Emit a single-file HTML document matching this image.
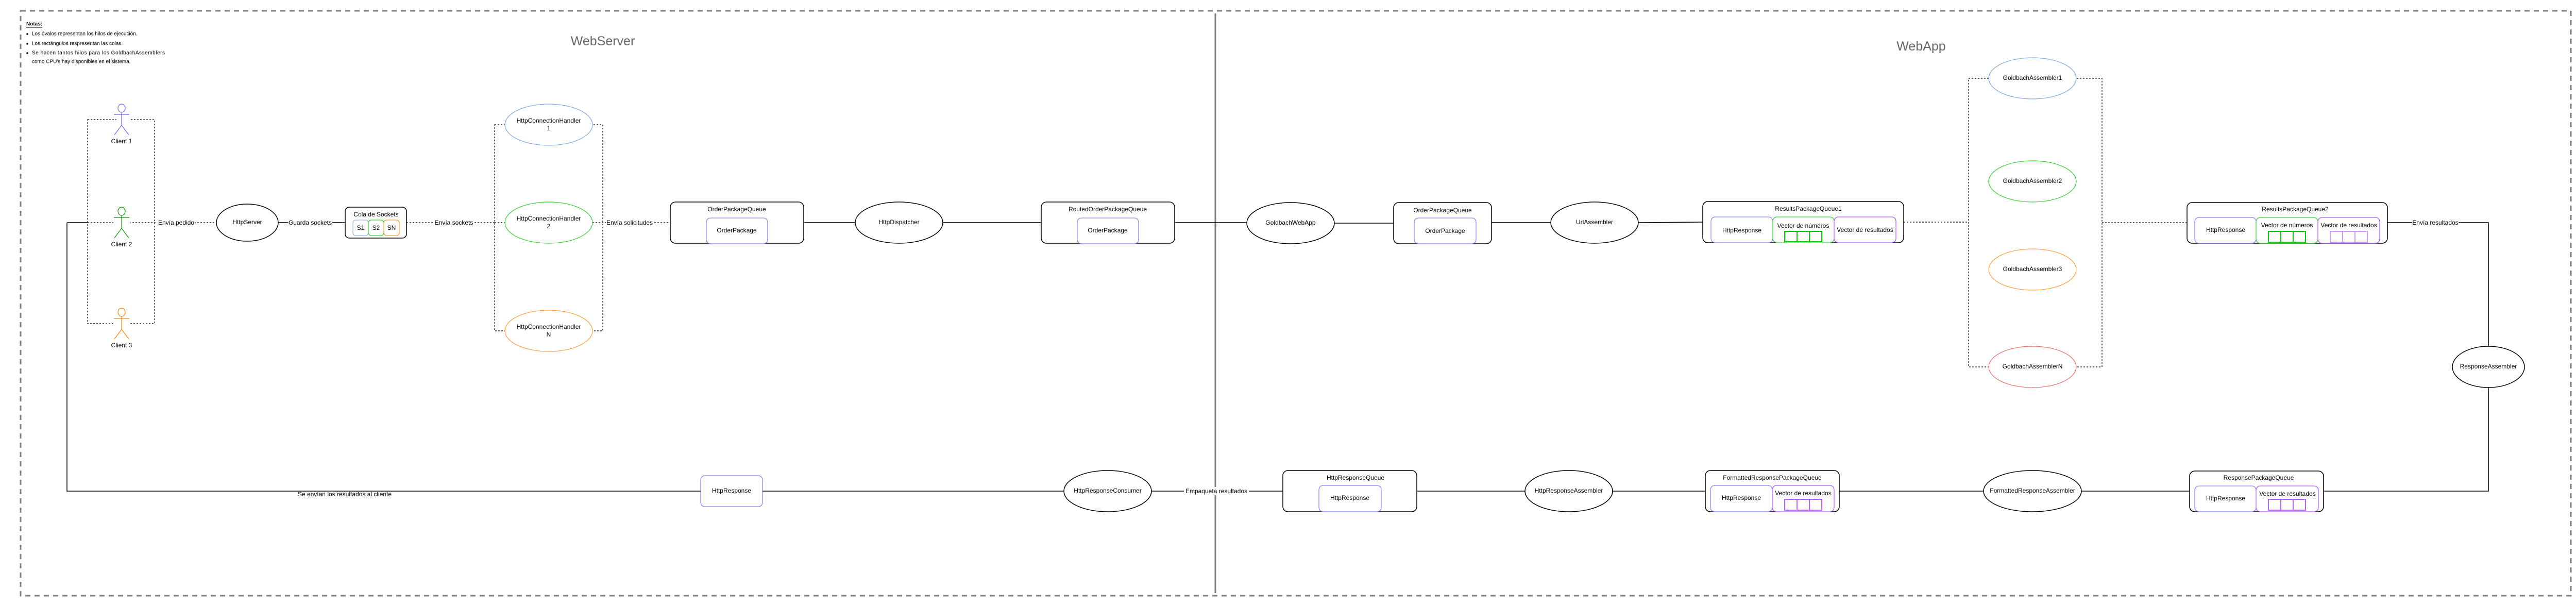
<!DOCTYPE html>
<html><head><meta charset="utf-8"><style>
html,body{margin:0;padding:0;background:#fff;}
svg{display:block;}
text{font-family:"Liberation Sans",Arial,sans-serif;font-size:12px;fill:#000;dominant-baseline:central;text-anchor:middle;}
.n{font-size:10px;text-anchor:start;}
.t{font-size:25px;fill:#666;}
.l{stroke:#000;stroke-width:1.5;fill:none;}
.d{stroke:#000;stroke-width:1.2;fill:none;stroke-dasharray:3,3;}
.box{fill:#fff;stroke:#000;stroke-width:1.5;}
.lb{fill:#fff;}
</style></head><body>
<svg width="5013" height="1174" viewBox="0 0 5013 1174" xmlns="http://www.w3.org/2000/svg">
<!-- outer border -->
<rect x="40" y="21" width="4950" height="1135" fill="none" stroke="#808080" stroke-width="3" stroke-dasharray="10,8"/>
<line x1="2359" y1="26" x2="2359" y2="1151" stroke="#808080" stroke-width="3"/>

<!-- notes -->
<text class="n" x="51" y="47" style="font-weight:bold;text-decoration:underline">Notas:</text>
<circle cx="53" cy="66" r="1.8"/><text class="n" x="62" y="66">Los óvalos representan los hilos de ejecución.</text>
<circle cx="53" cy="85" r="1.8"/><text class="n" x="62" y="85">Los rectángulos respresentan las colas.</text>
<circle cx="53" cy="103" r="1.8"/><text class="n" x="62" y="103" textLength="258">Se  hacen  tantos  hilos  para  los  GoldbachAssemblers</text>
<text class="n" x="62" y="120">como CPU's hay disponibles en el sistema.</text>

<text class="t" x="1170" y="80">WebServer</text>
<text class="t" x="3729" y="90">WebApp</text>

<!-- main lines top -->
<line class="l" x1="130" y1="432" x2="170" y2="432"/>
<line class="d" x1="170" y1="432" x2="226" y2="432"/>
<line class="d" x1="251" y1="432" x2="420" y2="432"/>
<line class="l" x1="540" y1="432" x2="670" y2="432"/>
<line class="d" x1="789" y1="432" x2="960" y2="432"/>
<line class="d" x1="960" y1="432" x2="980" y2="432"/>
<line class="d" x1="1150" y1="432" x2="1301" y2="432"/>
<line class="l" x1="1560" y1="432" x2="1660" y2="432"/>
<line class="l" x1="1830" y1="432" x2="2021" y2="432"/>
<line class="l" x1="2280" y1="432" x2="2420" y2="432"/>
<line class="l" x1="2590" y1="433" x2="2705" y2="433"/>
<line class="l" x1="2895" y1="432" x2="3010" y2="432"/>
<line class="l" x1="3180" y1="432" x2="3305" y2="431"/>
<line class="d" x1="3695" y1="431" x2="3821" y2="431"/>
<line class="d" x1="4080" y1="432" x2="4245" y2="432"/>
<polyline class="l" points="4634,432 4830,432 4830,672"/>
<polyline class="l" points="4830,752 4830,953 4510,953"/>
<line class="l" x1="4250" y1="953" x2="4040" y2="953"/>
<line class="l" x1="3850" y1="953" x2="3570" y2="953"/>
<line class="l" x1="3310" y1="953" x2="3130" y2="953"/>
<line class="l" x1="2961" y1="953" x2="2750" y2="953"/>
<line class="l" x1="2490" y1="953" x2="2235" y2="953"/>
<line class="l" x1="2065" y1="953" x2="1480" y2="953"/>
<polyline class="l" points="1360,953 130,953 130,432"/>

<!-- line labels -->
<rect class="lb" x="305" y="424" width="74" height="16"/><text x="342" y="432">Envía pedido</text>
<rect class="lb" x="559" y="424" width="86" height="16"/><text x="602" y="432">Guarda sockets</text>
<rect class="lb" x="842" y="424" width="78" height="16"/><text x="881" y="432">Envía sockets</text>
<rect class="lb" x="1176" y="424" width="93" height="16"/><text x="1222" y="432">Envía solicitudes</text>
<rect class="lb" x="2298" y="945" width="126" height="16"/><text x="2361" y="953">Empaqueta  resultados</text>
<rect class="lb" x="4682" y="424" width="90" height="16"/><text x="4727" y="432">Envía resultados</text>
<text x="669" y="959">Se envían los resultados al cliente</text>

<!-- clients -->
<rect class="d" x="170" y="232" width="130" height="396" fill="none"/>
<g fill="none" stroke-width="1.2">
 <g stroke="#6666ff"><rect x="226" y="202" width="25" height="60" fill="#fff" stroke="none"/><ellipse cx="236" cy="210" rx="7" ry="8"/><line x1="221" y1="222" x2="251" y2="222"/><line x1="236" y1="218" x2="236" y2="243"/><polyline points="222,262 236,243 250,262"/></g>
 <g stroke="#009900"><rect x="220" y="402" width="33" height="60" fill="#fff" stroke="none"/><ellipse cx="236" cy="410" rx="7" ry="8"/><line x1="221" y1="422" x2="251" y2="422"/><line x1="236" y1="418" x2="236" y2="443"/><polyline points="222,462 236,443 250,462"/></g>
 <g stroke="#ff8000"><rect x="220" y="598" width="33" height="60" fill="#fff" stroke="none"/><ellipse cx="236" cy="606" rx="7" ry="8"/><line x1="221" y1="618" x2="251" y2="618"/><line x1="236" y1="614" x2="236" y2="639"/><polyline points="222,658 236,639 250,658"/></g>
</g>
<text x="236" y="274">Client 1</text>
<text x="236" y="474">Client 2</text>
<text x="236" y="670">Client 3</text>

<!-- HttpServer -->
<ellipse class="box" cx="480" cy="432" rx="60" ry="36"/><text x="480" y="431">HttpServer</text>
<!-- Cola de sockets -->
<rect class="box" x="670" y="402" width="119" height="60" rx="8"/>
<text x="730" y="416">Cola de Sockets</text>
<rect x="685" y="427" width="30" height="30" rx="5" fill="none" stroke="#7EA6E0"/><text x="700" y="442">S1</text>
<rect x="715" y="427" width="30" height="30" rx="5" fill="none" stroke="#00cc00"/><text x="730" y="442">S2</text>
<rect x="745" y="427" width="30" height="30" rx="5" fill="none" stroke="#ff8000"/><text x="760" y="442">SN</text>

<!-- HCH -->
<rect class="d" x="960" y="242" width="210" height="400"/>
<ellipse cx="1065" cy="242" rx="85" ry="40" fill="#fff" stroke="#7EA6E0" stroke-width="1.2"/><text x="1065" y="234">HttpConnectionHandler</text><text x="1065" y="249">1</text>
<ellipse cx="1065" cy="432" rx="85" ry="40" fill="#fff" stroke="#33cc33" stroke-width="1.2"/><text x="1065" y="424">HttpConnectionHandler</text><text x="1065" y="439">2</text>
<ellipse cx="1065" cy="642" rx="85" ry="40" fill="#fff" stroke="#ff9933" stroke-width="1.2"/><text x="1065" y="634">HttpConnectionHandler</text><text x="1065" y="649">N</text>

<!-- OrderPackageQueue -->
<rect class="box" x="1301" y="392" width="259" height="80" rx="10"/><text x="1430" y="406">OrderPackageQueue</text>
<rect x="1371" y="423" width="119" height="50" rx="8" fill="#fff" stroke="#6666ff"/><text x="1430" y="447">OrderPackage</text>
<ellipse class="box" cx="1745" cy="432" rx="85" ry="40"/><text x="1745" y="431">HttpDispatcher</text>
<rect class="box" x="2021" y="392" width="259" height="80" rx="10"/><text x="2150" y="406">RoutedOrderPackageQueue</text>
<rect x="2091" y="423" width="119" height="50" rx="8" fill="#fff" stroke="#6666ff"/><text x="2150" y="447">OrderPackage</text>

<!-- WebApp top -->
<ellipse class="box" cx="2505" cy="433" rx="85" ry="40"/><text x="2505" y="432">GoldbachWebApp</text>
<rect class="box" x="2705" y="393" width="190" height="80" rx="10"/><text x="2800" y="408">OrderPackageQueue</text>
<rect x="2745" y="423" width="120" height="50" rx="8" fill="#fff" stroke="#6666ff"/><text x="2805" y="448">OrderPackage</text>
<ellipse class="box" cx="3095" cy="432" rx="85" ry="40"/><text x="3095" y="431">UrlAssembler</text>

<rect class="box" x="3305" y="391" width="390" height="80" rx="10"/><text x="3510" y="405">ResultsPackageQueue1</text>
<rect x="3321" y="421" width="120" height="50" rx="8" fill="#fff" stroke="#6666ff"/><text x="3381" y="447">HttpResponse</text>
<rect x="3441" y="421" width="119" height="50" rx="8" fill="#fff" stroke="#00cc00"/><text x="3500" y="438">Vector de números</text>
<g fill="none" stroke="#00cc00" stroke-width="2"><rect x="3464" y="449" width="72" height="20"/><line x1="3488" y1="449" x2="3488" y2="469"/><line x1="3512" y1="449" x2="3512" y2="469"/></g>
<rect x="3560" y="421" width="120" height="50" rx="8" fill="#fff" stroke="#9933ff"/><text x="3620" y="446">Vector de resultados</text>

<!-- Goldbach assemblers -->
<rect class="d" x="3821" y="152" width="259" height="560"/>
<ellipse cx="3945" cy="152" rx="85" ry="40" fill="#fff" stroke="#7EA6E0" stroke-width="1.2"/><text x="3945" y="151">GoldbachAssembler1</text>
<ellipse cx="3945" cy="352" rx="85" ry="40" fill="#fff" stroke="#33cc33" stroke-width="1.2"/><text x="3945" y="351">GoldbachAssembler2</text>
<ellipse cx="3945" cy="523" rx="85" ry="40" fill="#fff" stroke="#ff9933" stroke-width="1.2"/><text x="3945" y="522">GoldbachAssembler3</text>
<ellipse cx="3945" cy="712" rx="85" ry="40" fill="#fff" stroke="#EA6B66" stroke-width="1.2"/><text x="3945" y="711">GoldbachAssemblerN</text>

<!-- ResultsPackageQueue2 -->
<rect class="box" x="4245" y="393" width="389" height="79" rx="10"/><text x="4455" y="406">ResultsPackageQueue2</text>
<rect x="4260" y="422" width="119" height="50" rx="8" fill="#fff" stroke="#6666ff"/><text x="4320" y="446">HttpResponse</text>
<rect x="4379" y="422" width="120" height="50" rx="8" fill="#fff" stroke="#00cc00"/><text x="4439" y="437">Vector de números</text>
<g fill="none" stroke="#00cc00" stroke-width="2"><rect x="4403" y="449" width="72" height="21"/><line x1="4427" y1="449" x2="4427" y2="470"/><line x1="4451" y1="449" x2="4451" y2="470"/></g>
<rect x="4499" y="422" width="120" height="50" rx="8" fill="#fff" stroke="#9933ff"/><text x="4559" y="437">Vector de resultados</text>
<g fill="none" stroke="#cc99ff" stroke-width="2"><rect x="4523" y="449" width="72" height="21"/><line x1="4547" y1="449" x2="4547" y2="470"/><line x1="4571" y1="449" x2="4571" y2="470"/></g>

<ellipse class="box" cx="4830" cy="712" rx="70" ry="40"/><text x="4830" y="711">ResponseAssembler</text>

<!-- ResponsePackageQueue -->
<rect class="box" x="4250" y="914" width="260" height="79" rx="10"/><text x="4384" y="927">ResponsePackageQueue</text>
<rect x="4260" y="943" width="119" height="50" rx="8" fill="#fff" stroke="#6666ff"/><text x="4320" y="967">HttpResponse</text>
<rect x="4379" y="943" width="121" height="50" rx="8" fill="#fff" stroke="#9933ff"/><text x="4440" y="958">Vector de resultados</text>
<g fill="none" stroke="#b266ff" stroke-width="2"><rect x="4403" y="969" width="72" height="21"/><line x1="4427" y1="969" x2="4427" y2="990"/><line x1="4451" y1="969" x2="4451" y2="990"/></g>

<ellipse class="box" cx="3945" cy="953" rx="95" ry="40"/><text x="3945" y="952">FormattedResponseAssembler</text>

<!-- FormattedResponsePackageQueue -->
<rect class="box" x="3310" y="913" width="260" height="80" rx="10"/><text x="3440" y="927">FormattedResponsePackageQueue</text>
<rect x="3320" y="942" width="120" height="51" rx="8" fill="#fff" stroke="#6666ff"/><text x="3380" y="966">HttpResponse</text>
<rect x="3440" y="942" width="120" height="51" rx="8" fill="#fff" stroke="#9933ff"/><text x="3500" y="957">Vector de resultados</text>
<g fill="none" stroke="#b266ff" stroke-width="2"><rect x="3464" y="969" width="72" height="21"/><line x1="3488" y1="969" x2="3488" y2="990"/><line x1="3512" y1="969" x2="3512" y2="990"/></g>

<ellipse class="box" cx="3045" cy="953" rx="85" ry="40"/><text x="3045" y="952">HttpResponseAssembler</text>

<!-- HttpResponseQueue -->
<rect class="box" x="2490" y="913" width="260" height="80" rx="10"/><text x="2631" y="927">HttpResponseQueue</text>
<rect x="2560" y="942" width="121" height="51" rx="8" fill="#fff" stroke="#6666ff"/><text x="2620" y="966">HttpResponse</text>

<ellipse class="box" cx="2150" cy="953" rx="85" ry="40"/><text x="2150" y="952">HttpResponseConsumer</text>

<rect x="1360" y="923" width="120" height="60" rx="8" fill="#fff" stroke="#6666ff"/><text x="1420" y="952">HttpResponse</text>
</svg>
</body></html>
